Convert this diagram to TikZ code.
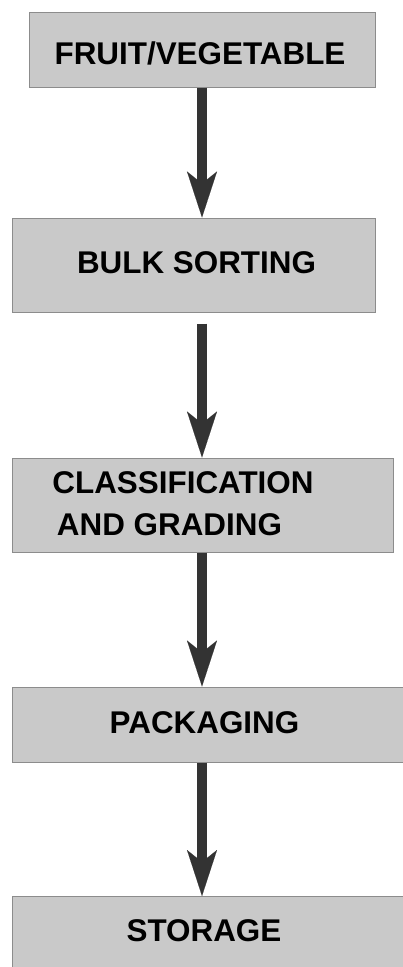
\documentclass[tikz,border=0pt]{standalone}
\usepackage{fontspec}
\setmainfont{Liberation Sans}
\usetikzlibrary{arrows.meta}
\definecolor{boxfill}{HTML}{C9C9C9}
\definecolor{boxline}{HTML}{8C8C8C}
\definecolor{flowcol}{HTML}{333333}
\tikzset{
  stagebox/.style={rectangle, fill=boxfill, draw=boxline, line width=1pt, inner sep=0pt},
  stagetext/.style={anchor=base, inner sep=0pt, font=\fontsize{31.4}{36}\selectfont\bfseries},
  flow/.style={draw=flowcol, line width=9.5pt,
    -{Stealth[length=46pt, width=30pt, inset=12pt, line width'=0.1pt, fill=flowcol]}},
}
\begin{document}
\begin{tikzpicture}[x=1pt, y=-1pt]
\useasboundingbox (0,0) rectangle (402,967);
\fill[white] (0,0) rectangle (402,967);

% process stages
\node[stagebox, minimum width=346pt, minimum height=75pt] (b1) at (202,49.5) {};
\node[stagebox, minimum width=363pt, minimum height=94pt] (b2) at (193.5,265) {};
\node[stagebox, minimum width=381pt, minimum height=94pt] (b3) at (202.5,505) {};
\node[stagebox, minimum width=394pt, minimum height=75pt] (b4) at (209,724.5) {};
\node[stagebox, minimum width=394pt, minimum height=74pt] (b5) at (209,933.5) {};

% stage labels
\node[stagetext] (t1) at (200,64) {FRUIT/VEGETABLE};
\node[stagetext] (t2) at (196.5,273) {BULK SORTING};
\node[stagetext] (t3a) at (183,493) {CLASSIFICATION};
\node[stagetext] (t3b) at (169.5,535) {AND GRADING};
\node[stagetext] (t4) at (204.5,733) {PACKAGING};
\node[stagetext] (t5) at (204,941) {STORAGE};

% connectors along a common vertical axis
\coordinate (axis) at (202,0);
\draw[flow] (axis |- b1.south) -- (axis |- b2.north);
\draw[flow, shorten <=11pt] (axis |- b2.south) -- (axis |- b3.north);
\draw[flow] (axis |- b3.south) -- (axis |- b4.north);
\draw[flow] (axis |- b4.south) -- (axis |- b5.north);
\end{tikzpicture}
\end{document}
